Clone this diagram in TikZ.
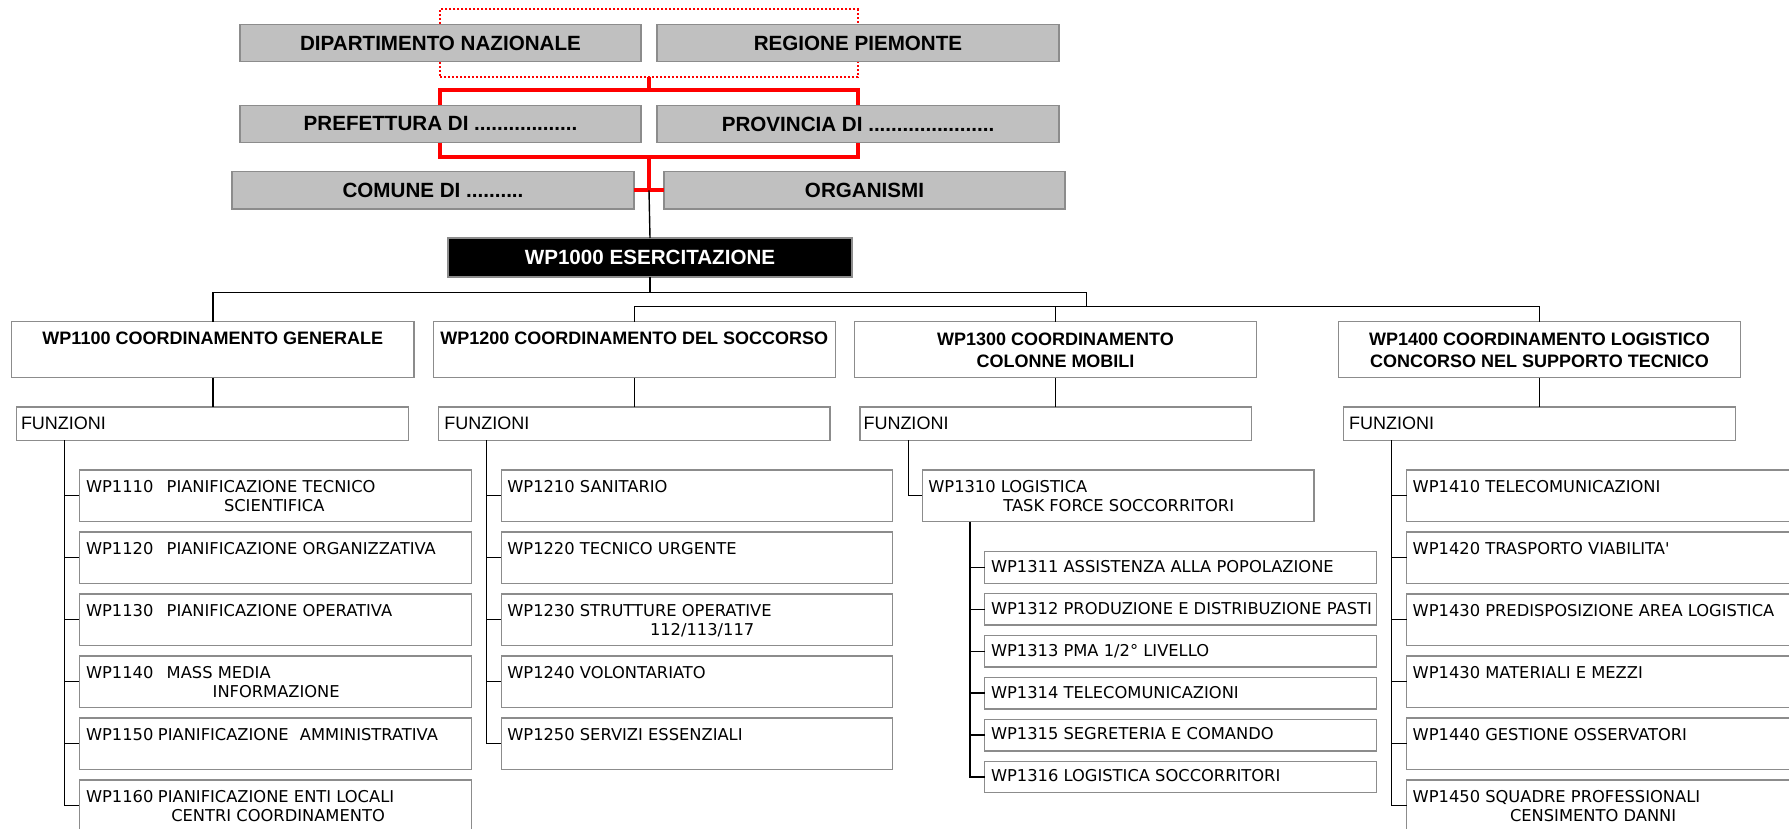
\documentclass[tikz,border=0pt]{standalone}
\usepackage{fontspec}
\setmainfont{Liberation Sans}
\newfontfamily\vfont{DejaVu Sans}
\definecolor{bord}{HTML}{8C8C8C}
\definecolor{topfill}{HTML}{C0C0C0}
\definecolor{redl}{HTML}{FF0000}
\newcommand\mkbox[7]{%
  \pgfmathsetmacro\bxcx{((#2)+(#4))/2}%
  \pgfmathsetmacro\bxcy{((#3)+(#5))/2}%
  \pgfmathsetmacro\bxw{((#4)-(#2))*0.5}%
  \pgfmathsetmacro\bxh{((#5)-(#3))*0.5}%
  \node[#6,minimum width=\bxw pt,minimum height=\bxh pt] (#1) at (\bxcx,\bxcy) {#7};}
\tikzset{
  every node/.style={inner sep=0pt, outer sep=0pt},
  topbox/.style={draw=bord, fill=topfill, line width=0.7pt, font=\fontsize{10.3}{12}\selectfont\bfseries},
  blackbox/.style={draw=bord, fill=black, text=white, line width=0.7pt, font=\fontsize{10.3}{12}\selectfont\bfseries},
  wbox/.style={draw=bord, fill=white, line width=0.7pt},
  grpbox/.style={draw=redl, line width=1.1pt, dash pattern=on 1.1pt off 0.9pt},
  redln/.style={draw=redl, line width=2.1pt},
  conn/.style={draw=black, line width=0.7pt},
  hd/.style={font=\fontsize{9}{11}\selectfont\bfseries, anchor=base},
  fz/.style={font=\fontsize{9}{11}\selectfont, anchor=base west},
  sm/.style={font=\vfont\fontsize{8.15}{10}\selectfont, anchor=base west},
}
\begin{document}
\begin{tikzpicture}[x=0.5pt,y=-0.5pt]
\clip (0,0) rectangle (1789,829);
\fill[white] (0,0) rectangle (1789,829);

% ---------- top group ----------
\mkbox{grp}{440}{9.3}{858}{76.7}{grpbox}{}
\coordinate (rA) at (649,90);
\coordinate (rB) at (649,157);
\coordinate (lx) at (440,0);
\coordinate (rx) at (858,0);

\mkbox{dip}{240}{24.3}{641}{61.7}{topbox}{DIPARTIMENTO NAZIONALE}
\mkbox{reg}{657}{24.3}{1059}{61.7}{topbox}{REGIONE PIEMONTE}
\mkbox{pref}{240}{105.3}{641}{142.7}{topbox}{PREFETTURA DI ..................}
\mkbox{prov}{657}{105.3}{1059}{142.7}{topbox}{PROVINCIA DI ......................}
\mkbox{comune}{232}{171.7}{634}{209}{topbox}{COMUNE DI ..........}
\mkbox{organ}{664}{171.7}{1065}{209}{topbox}{ORGANISMI}
\mkbox{wp1000}{448}{238}{852}{277}{blackbox}{WP1000 ESERCITAZIONE}

% red connectors
\draw[redln] (grp.south) -- (rA);
\draw[redln] (lx |- pref.north) -- (lx |- rA) -- (rx |- rA) -- (rx |- prov.north);
\draw[redln] (lx |- pref.south) -- (lx |- rB) -- (rx |- rB) -- (rx |- prov.south);
\draw[redln] (rB) -- (rB |- comune.east);
\draw[redln] (comune.east) -- (organ.west);
\draw[conn] (rB |- comune.east) -- (wp1000.north);

% ---------- level 2 ----------
\mkbox{w1100}{11.7}{321.7}{414}{377.7}{wbox}{}
\mkbox{w1200}{433.3}{321.7}{835.3}{377.7}{wbox}{}
\mkbox{w1300}{854.3}{321.7}{1256.7}{377.7}{wbox}{}
\mkbox{w1400}{1338.3}{321.7}{1740.7}{377.7}{wbox}{}
\node[hd] (t1100) at (212.85,344.5) {WP1100 COORDINAMENTO GENERALE};
\node[hd] (t1200) at (634.3,344.5) {WP1200 COORDINAMENTO DEL SOCCORSO};
\node[hd] (t1300a) at (1055.5,345) {WP1300 COORDINAMENTO};
\node[hd] (t1300b) at (1055.5,367.3) {COLONNE MOBILI};
\node[hd] (t1400a) at (1539.5,345) {WP1400 COORDINAMENTO LOGISTICO};
\node[hd] (t1400b) at (1539.5,367.3) {CONCORSO NEL SUPPORTO TECNICO};

\coordinate (barA) at (0,292.7);
\coordinate (barB) at (0,306.7);
\coordinate (jA) at (1086.7,292.7);
\draw[conn] (wp1000.south) -- (wp1000.south |- barA);
\draw[conn] (w1100.north) -- (w1100.north |- barA) -- (jA) -- (jA |- barB);
\draw[conn] (w1200.north) -- (w1200.north |- barB) -- (w1400.north |- barB) -- (w1400.north);
\draw[conn] (w1300.north) -- (w1300.north |- barB);

% ---------- FUNZIONI ----------
\mkbox{f1}{16.7}{407}{408.3}{440.3}{wbox}{}
\mkbox{f2}{438.3}{407}{830}{440.3}{wbox}{}
\mkbox{f3}{860}{407}{1251.7}{440.3}{wbox}{}
\mkbox{f4}{1343.3}{407}{1735.3}{440.3}{wbox}{}
\node[fz] (tf1) at (21,429) {FUNZIONI};
\node[fz] (tf2) at (444.3,429) {FUNZIONI};
\node[fz] (tf3) at (863.5,429) {FUNZIONI};
\node[fz] (tf4) at (1349,429) {FUNZIONI};
\draw[conn] (w1100.south) -- (w1100.south |- f1.north);
\draw[conn] (w1200.south) -- (w1200.south |- f2.north);
\draw[conn] (w1300.south) -- (w1300.south |- f3.north);
\draw[conn] (w1400.south) -- (w1400.south |- f4.north);

% ---------- column 1 ----------
\foreach \n/\t in {1110/470,1120/532,1130/594,1140/656,1150/718,1160/780}
  {\mkbox{b\n}{79.3}{\t}{471.3}{\t+51.5}{wbox}{}}
\node[sm] (t1110) at (86,492.3) {\makebox[40.35pt][l]{WP1110}PIANIFICAZIONE TECNICO};
\node[sm] (t1110b) at (224,511) {SCIENTIFICA};
\node[sm] (t1120) at (86,554.3) {\makebox[40.35pt][l]{WP1120}PIANIFICAZIONE ORGANIZZATIVA};
\node[sm] (t1130) at (86,616.3) {\makebox[40.35pt][l]{WP1130}PIANIFICAZIONE OPERATIVA};
\node[sm] (t1140) at (86,678.3) {\makebox[40.35pt][l]{WP1140}MASS MEDIA};
\node[sm] (t1140b) at (212.7,697) {INFORMAZIONE};
\node[sm] (t1150) at (86,740.3) {\makebox[36pt][l]{WP1150}\makebox[71pt][l]{PIANIFICAZIONE}AMMINISTRATIVA};
\node[sm] (t1160) at (86,802) {\makebox[36pt][l]{WP1160}PIANIFICAZIONE ENTI LOCALI};
\node[sm] (t1160b) at (171.3,821) {CENTRI COORDINAMENTO};
\coordinate (c1x) at (64.3,0);
\draw[conn] (f1.south -| c1x) |- (b1160.west);
\foreach \b in {b1110,b1120,b1130,b1140,b1150}
  {\draw[conn] (c1x |- \b.west) -- (\b.west);}

% ---------- column 2 ----------
\foreach \n/\t in {1210/470,1220/532,1230/594,1240/656,1250/718}
  {\mkbox{b\n}{501.3}{\t}{892.7}{\t+51.5}{wbox}{}}
\node[sm] (t1210) at (507.3,492.3) {WP1210 SANITARIO};
\node[sm] (t1220) at (507.3,554.3) {WP1220 TECNICO URGENTE};
\node[sm] (t1230) at (507.3,616.3) {WP1230 STRUTTURE OPERATIVE};
\node[sm] (t1230b) at (650,635.5) {112/113/117};
\node[sm] (t1240) at (507.3,678.3) {WP1240 VOLONTARIATO};
\node[sm] (t1250) at (507.3,740.3) {WP1250 SERVIZI ESSENZIALI};
\coordinate (c2x) at (486.7,0);
\draw[conn] (f2.south -| c2x) |- (b1250.west);
\foreach \b in {b1210,b1220,b1230,b1240}
  {\draw[conn] (c2x |- \b.west) -- (\b.west);}

% ---------- column 3 ----------
\mkbox{b1310}{922.3}{470}{1314}{521.5}{wbox}{}
\node[sm] (t1310) at (928.3,492.3) {WP1310 LOGISTICA};
\node[sm] (t1310b) at (1003.3,511) {TASK FORCE SOCCORRITORI};
\coordinate (c3x) at (908.3,0);
\draw[conn] (f3.south -| c3x) |- (b1310.west);
\foreach \n/\t in {1311/551.7,1312/593.6,1313/635.5,1314/677.4,1315/719.3,1316/761.2}
  {\mkbox{b\n}{984.7}{\t}{1376.3}{\t+31.5}{wbox}{}}
\node[sm] (t1311) at (991,572.3) {WP1311 ASSISTENZA ALLA POPOLAZIONE};
\node[sm] (t1312) at (991,614.2) {WP1312 PRODUZIONE E DISTRIBUZIONE PASTI};
\node[sm] (t1313) at (991,656.1) {WP1313 PMA 1/2° LIVELLO};
\node[sm] (t1314) at (991,698) {WP1314 TELECOMUNICAZIONI};
\node[sm] (t1315) at (991,739.9) {WP1315 SEGRETERIA E COMANDO};
\node[sm] (t1316) at (991,781.8) {WP1316 LOGISTICA SOCCORRITORI};
\coordinate (c3y) at (970,0);
\draw[conn] (b1310.south -| c3y) |- (b1316.west);
\foreach \b in {b1311,b1312,b1313,b1314,b1315}
  {\draw[conn] (c3y |- \b.west) -- (\b.west);}

% ---------- column 4 ----------
\foreach \n/\t in {1410/470,1420/532,1430/594,1431/656,1440/718,1450/780}
  {\mkbox{b\n}{1406.7}{\t}{1800}{\t+51.5}{wbox}{}}
\node[sm] (t1410) at (1412.7,492.3) {WP1410 TELECOMUNICAZIONI};
\node[sm] (t1420) at (1412.7,554.3) {WP1420 TRASPORTO VIABILITA'};
\node[sm] (t1430) at (1412.7,616.3) {WP1430 PREDISPOSIZIONE AREA LOGISTICA};
\node[sm] (t1431) at (1412.7,678.3) {WP1430 MATERIALI E MEZZI};
\node[sm] (t1440) at (1412.7,740.3) {WP1440 GESTIONE OSSERVATORI};
\node[sm] (t1450) at (1412.7,802) {WP1450 SQUADRE PROFESSIONALI};
\node[sm] (t1450b) at (1510,821) {CENSIMENTO DANNI};
\coordinate (c4x) at (1391.7,0);
\draw[conn] (f4.south -| c4x) |- (b1450.west);
\foreach \b in {b1410,b1420,b1430,b1431,b1440}
  {\draw[conn] (c4x |- \b.west) -- (\b.west);}
\end{tikzpicture}
\end{document}
